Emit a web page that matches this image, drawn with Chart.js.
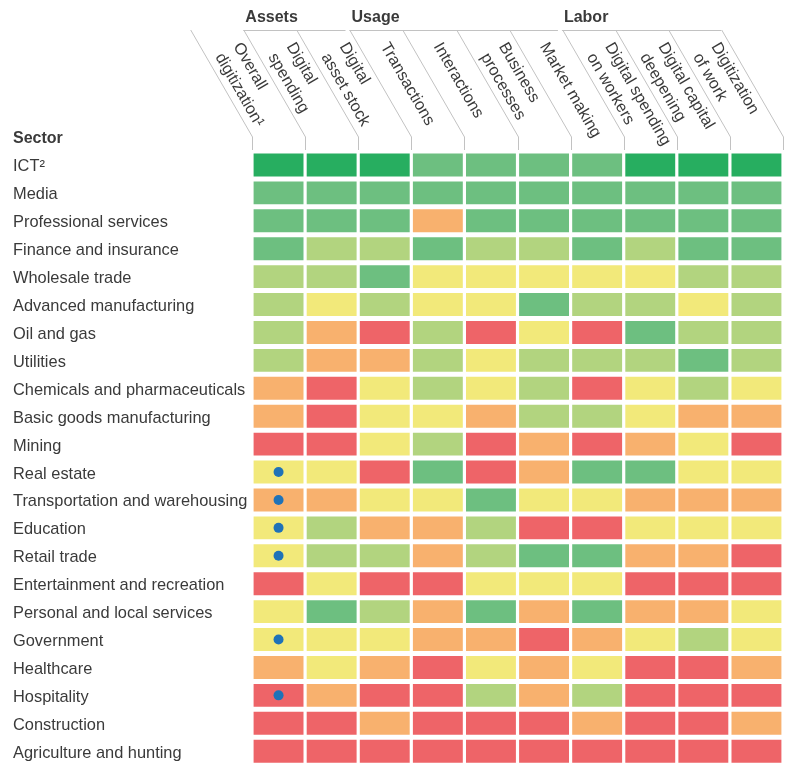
<!DOCTYPE html>
<html>
<head>
<meta charset="utf-8">
<title>Digitization by sector</title>
<script src="https://cdn.jsdelivr.net/npm/chart.js@4.4.1/dist/chart.umd.min.js"></script>
<style>
  html, body { margin: 0; padding: 0; background: #fff; }
  #wrap { width: 793px; height: 775px; }
</style>
</head>
<body>
<div id="wrap"><canvas id="heat" width="793" height="775"></canvas></div>
<script>
// Sector rows, top to bottom
const sectors = [
  'ICT²', 'Media', 'Professional services', 'Finance and insurance',
  'Wholesale trade', 'Advanced manufacturing', 'Oil and gas', 'Utilities',
  'Chemicals and pharmaceuticals', 'Basic goods manufacturing', 'Mining',
  'Real estate', 'Transportation and warehousing', 'Education', 'Retail trade',
  'Entertainment and recreation', 'Personal and local services', 'Government',
  'Healthcare', 'Hospitality', 'Construction', 'Agriculture and hunting'
];

// Column headers (one entry per line of the rotated label)
const columnLabels = [
  ['Overall', 'digitization¹'],
  ['Digital', 'spending'],
  ['Digital', 'asset stock'],
  ['Transactions'],
  ['Interactions'],
  ['Business', 'processes'],
  ['Market making'],
  ['Digital spending', 'on workers'],
  ['Digital capital', 'deepening'],
  ['Digitization', 'of work']
];

// Column groups
const groupNames = ['Assets', 'Usage', 'Labor'];
const groupStarts = [1, 3, 7];
const groupEnds = [3, 7, 10];

// Digitization level per cell: 0 = lowest ... 5 = highest
const scores = [
  [5, 5, 5, 4, 4, 4, 4, 5, 5, 5],
  [4, 4, 4, 4, 4, 4, 4, 4, 4, 4],
  [4, 4, 4, 1, 4, 4, 4, 4, 4, 4],
  [4, 3, 3, 4, 3, 3, 4, 3, 4, 4],
  [3, 3, 4, 2, 2, 2, 2, 2, 3, 3],
  [3, 2, 3, 2, 2, 4, 3, 3, 2, 3],
  [3, 1, 0, 3, 0, 2, 0, 4, 3, 3],
  [3, 1, 1, 3, 2, 3, 3, 3, 4, 3],
  [1, 0, 2, 3, 2, 3, 0, 2, 3, 2],
  [1, 0, 2, 2, 1, 3, 3, 2, 1, 1],
  [0, 0, 2, 3, 0, 1, 0, 1, 2, 0],
  [2, 2, 0, 4, 0, 1, 4, 4, 2, 2],
  [1, 1, 2, 2, 4, 2, 2, 1, 1, 1],
  [2, 3, 1, 1, 3, 0, 0, 2, 2, 2],
  [2, 3, 3, 1, 3, 4, 4, 1, 1, 0],
  [0, 2, 0, 0, 2, 2, 2, 0, 0, 0],
  [2, 4, 3, 1, 4, 1, 4, 1, 1, 2],
  [2, 2, 2, 1, 1, 0, 1, 2, 3, 2],
  [1, 2, 1, 0, 2, 1, 2, 0, 0, 1],
  [0, 1, 0, 0, 3, 1, 3, 0, 0, 0],
  [0, 0, 1, 0, 0, 0, 1, 0, 0, 1],
  [0, 0, 0, 0, 0, 0, 0, 0, 0, 0]
];

// Sectors flagged with a dot in the overall column
const flaggedSectors = [
  'Real estate', 'Transportation and warehousing', 'Education',
  'Retail trade', 'Government', 'Hospitality'
];

const levelColors = ['#ee6468', '#f8b16e', '#f2e97a', '#b2d47f', '#6dbf80', '#27ae60'];
const FONT = "'Liberation Sans', Arial, Helvetica, sans-serif";
const TEXT = '#3a3a3a';

// Build one floating-bar dataset per column
const barSets = columnLabels.map((lines, c) => ({
  type: 'bar',
  label: lines.join(' '),
  data: sectors.map(() => [c + 0.03, c + 0.97]),
  backgroundColor: scores.map(row => levelColors[row[c]]),
  borderWidth: 0,
  grouped: false,
  categoryPercentage: 1,
  barPercentage: 0.82,
  order: 2
}));

const dotSet = {
  type: 'scatter',
  label: 'flag',
  data: flaggedSectors.map(s => ({ x: 0.5, y: s })),
  backgroundColor: '#1f72b8',
  borderWidth: 0,
  pointRadius: 5,
  showLine: false,
  order: 1
};

const headerPlugin = {
  id: 'header',
  afterDraw(chart) {
    const { ctx } = chart;
    const x = chart.scales.x;
    const topY = 30, bendY = 137, footY = 150;
    const run = (bendY - topY) / Math.tan(Math.PI / 3);
    const topX = i => x.getPixelForValue(i) - run;

    ctx.save();
    // slanted column dividers
    ctx.strokeStyle = '#c2c2c2';
    ctx.lineWidth = 1;
    for (let i = 0; i <= columnLabels.length; i++) {
      const bx = Math.round(x.getPixelForValue(i)) + 0.5;
      ctx.beginPath();
      ctx.moveTo(bx - run, topY);
      ctx.lineTo(bx, bendY);
      ctx.lineTo(bx, footY);
      ctx.stroke();
    }

    // group titles and their rules
    groupNames.forEach((name, g) => {
      const x0 = topX(groupStarts[g]);
      const last = g === groupNames.length - 1;
      const x1 = topX(groupEnds[g]) - (last ? 0 : 4);
      ctx.beginPath();
      ctx.moveTo(x0, topY + 0.5);
      ctx.lineTo(x1, topY + 0.5);
      ctx.stroke();
      ctx.fillStyle = TEXT;
      ctx.font = 'bold 16px ' + FONT;
      ctx.textAlign = 'left';
      ctx.textBaseline = 'alphabetic';
      ctx.fillText(name, x0 + 2, 22);
    });

    // rotated column labels
    ctx.font = '16.3px ' + FONT;
    ctx.fillStyle = TEXT;
    ctx.textAlign = 'left';
    ctx.textBaseline = 'middle';
    const lineGap = 21;
    columnLabels.forEach((lines, c) => {
      const cx = (topX(c) + topX(c + 1)) / 2;
      const n = lines.length;
      const p0 = 0 - (n - 1) / 2 * lineGap;
      const along = (14 - 0.5 * p0) / Math.sin(Math.PI / 3);
      ctx.save();
      ctx.translate(cx, topY);
      ctx.rotate(Math.PI / 3);
      lines.forEach((txt, j) => {
        ctx.fillText(txt, along, p0 + j * lineGap);
      });
      ctx.restore();
    });

    // row header title
    ctx.font = 'bold 16px ' + FONT;
    ctx.textBaseline = 'alphabetic';
    ctx.fillText('Sector', 13, 143);
    ctx.restore();
  }
};

new Chart(document.getElementById('heat'), {
  data: { labels: sectors, datasets: [...barSets, dotSet] },
  options: {
    indexAxis: 'y',
    responsive: false,
    animation: false,
    devicePixelRatio: 1,
    layout: { padding: { left: 13, top: 151, right: 10, bottom: 8 } },
    plugins: {
      legend: { display: false },
      tooltip: { enabled: false }
    },
    scales: {
      x: {
        type: 'linear',
        min: 0,
        max: 10,
        display: false
      },
      y: {
        type: 'category',
        offset: true,
        grid: { display: false },
        border: { display: false },
        afterFit(scale) { scale.width = 239; },
        ticks: {
          autoSkip: false,
          crossAlign: 'far',
          padding: 0,
          labelOffset: 2,
          color: TEXT,
          font: { family: FONT, size: 16.4 }
        }
      }
    }
  },
  plugins: [headerPlugin]
});
</script>
</body>
</html>
